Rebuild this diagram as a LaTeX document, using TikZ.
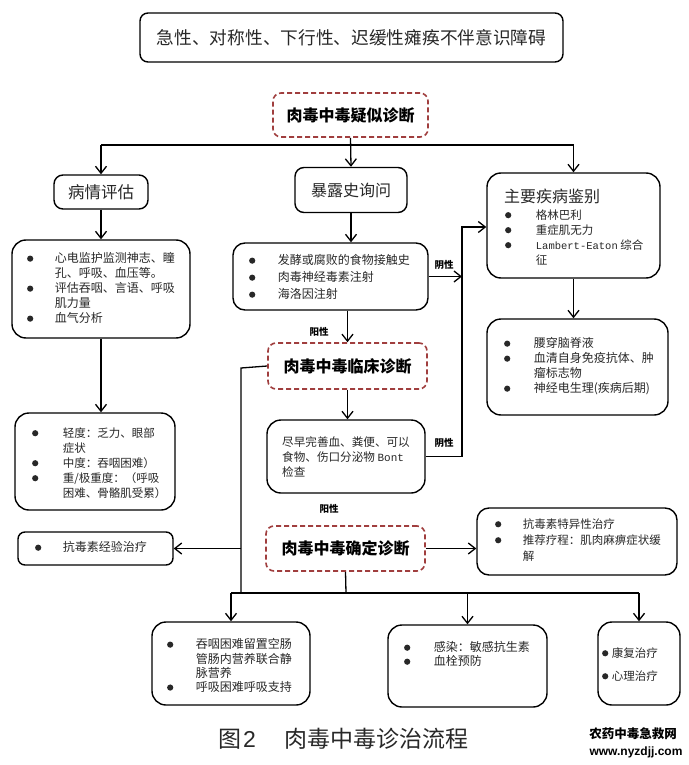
\documentclass[tikz,border=0pt]{standalone}
\usepackage{fontspec}
\setmainfont{Noto Sans CJK SC}
\newfontfamily\mono{Liberation Mono}
\newfontfamily\lsans{Liberation Sans}
\usetikzlibrary{arrows.meta}
\definecolor{dred}{RGB}{160,62,62}
\definecolor{txtc}{RGB}{40,40,40}
\newlength\bgap
\newcommand\bl{\makebox[\bgap][l]{\raisebox{1.2pt}{\tikz\fill (0,0) circle (3.1pt);}}}
\newcommand\ind{\hspace*{\bgap}}
\begin{document}
\begin{tikzpicture}[x=1pt,y=-1pt,
  box/.style={draw, line width=1.4pt, rounded corners=9pt, inner sep=0, text=txtc},
  dbox/.style={draw=dred, dash pattern=on 5pt off 3pt, line width=1.6pt, rounded corners=8pt, inner sep=0, font=\bfseries\fontsize{16}{18}\selectfont},
  txt/.style={anchor=north west, inner sep=0, align=left, text=txtc},
  conn/.style={line width=1.3pt},
  arr/.style={conn, -{Straight Barb[length=7pt,width=11pt]}},
  lab/.style={inner sep=0, font=\bfseries\fontsize{9.5}{11}\selectfont}]
\useasboundingbox[fill=white] (0,0) rectangle (688,765);

% boxes
\node[box, rounded corners=8pt, minimum width=423pt, minimum height=49pt, font=\fontsize{17.7}{20}\selectfont] (top) at (351.5,37.5) {急性、对称性、下行性、迟缓性瘫痪不伴意识障碍};
\node[dbox, minimum width=155pt, minimum height=44pt] (sus) at (350.5,115) {肉毒中毒疑似诊断};
\node[box, minimum width=94pt, minimum height=34pt, font=\fontsize{16.5}{18}\selectfont] (eval) at (101,192) {病情评估};
\node[box, minimum width=112pt, minimum height=45pt, font=\fontsize{16}{18}\selectfont] (exp) at (351,190) {暴露史询问};
\node[box, rounded corners=14pt, minimum width=173pt, minimum height=105pt] (diff) at (573.5,225.5) {};
\node[box, rounded corners=14pt, minimum width=178pt, minimum height=98pt] (eval2) at (101,289) {};
\node[box, rounded corners=12pt, minimum width=195pt, minimum height=67pt] (exp2) at (330.5,276.5) {};
\node[box, rounded corners=14pt, minimum width=181pt, minimum height=96pt] (diff2) at (577.5,367) {};
\node[dbox, minimum width=159pt, minimum height=46pt] (clin) at (347.5,366) {肉毒中毒临床诊断};
\node[box, rounded corners=14pt, minimum width=158pt, minimum height=73pt] (test) at (346,456.5) {};
\node[box, rounded corners=14pt, minimum width=160pt, minimum height=97pt] (sev) at (95,461.5) {};
\node[dbox, minimum width=159pt, minimum height=45pt] (conf) at (345.5,548.5) {肉毒中毒确定诊断};
\node[box, rounded corners=12pt, minimum width=200pt, minimum height=67pt] (anti) at (577,541.5) {};
\node[box, rounded corners=7pt, minimum width=155pt, minimum height=33pt] (emp) at (95.5,548.5) {};
\node[box, rounded corners=14pt, minimum width=158pt, minimum height=83pt] (b1) at (231,663.5) {};
\node[box, rounded corners=14pt, minimum width=159pt, minimum height=82pt] (b2) at (467.5,666) {};
\node[box, rounded corners=14pt, minimum width=82pt, minimum height=83pt] (b3) at (639,663.5) {};

% box texts
\node[txt, font=\fontsize{16}{18}\selectfont] (difft0) at (504,189) {主要疾病鉴别};
\setlength\bgap{30.8pt}
\node[txt, font=\fontsize{11.5}{15}\selectfont] (difft) at (504.9,209.6) {%
\bl 格林巴利\\
\bl 重症肌无力\\
\bl {\mono\fontsize{10.5}{15}\selectfont Lambert-Eaton} 综合\\
\ind 征};
\setlength\bgap{27.8pt}
\node[txt, font=\fontsize{12}{15}\selectfont] (eval2t) at (26.9,252.6) {%
\bl 心电监护监测神志、瞳\\
\ind 孔、呼吸、血压等。\\
\bl 评估吞咽、言语、呼吸\\
\ind 肌力量\\
\bl 血气分析};
\setlength\bgap{28.8pt}
\node[txt, font=\fontsize{12}{17}\selectfont] (exp2t) at (248.9,254.6) {%
\bl 发酵或腐败的食物接触史\\
\bl 肉毒神经毒素注射\\
\bl 海洛因注射};
\setlength\bgap{29.8pt}
\node[txt, font=\fontsize{12}{15}\selectfont] (diff2t) at (503.9,337.6) {%
\bl 腰穿脑脊液\\
\bl 血清自身免疫抗体、肿\\
\ind 瘤标志物\\
\bl 神经电生理(疾病后期)};
\node[txt, font=\fontsize{11.6}{15}\selectfont] (testt) at (282,436.6) {尽早完善血、粪便、可以\\
食物、伤口分泌物 {\mono\fontsize{11}{15}\selectfont Bont}\\
检查};
\setlength\bgap{30.8pt}
\node[txt, font=\fontsize{11.5}{15}\selectfont] (sevt) at (31.9,427.6) {%
\bl 轻度：乏力、眼部\\
\ind 症状\\
\bl 中度：吞咽困难）\\
\bl 重/极重度：（呼吸\\
\ind 困难、骨骼肌受累）};
\setlength\bgap{27.8pt}
\node[txt, font=\fontsize{11.5}{16}\selectfont] (antit) at (494.9,518.6) {%
\bl 抗毒素特异性治疗\\
\bl 推荐疗程：肌肉麻痹症状缓\\
\ind 解};
\node[txt, font=\fontsize{12}{15}\selectfont] (empt) at (34.9,541.6) {%
\bl 抗毒素经验治疗};
\setlength\bgap{28.8pt}
\node[txt, font=\fontsize{12}{14.3}\selectfont] (b1t) at (166.9,638.6) {%
\bl 吞咽困难留置空肠\\
\ind 管肠内营养联合静\\
\ind 脉营养\\
\bl 呼吸困难呼吸支持};
\setlength\bgap{29.8pt}
\node[txt, font=\fontsize{12}{14}\selectfont] (b2t) at (403.9,641.6) {%
\bl 感染：敏感抗生素\\
\bl 血栓预防};
\setlength\bgap{9.8pt}
\node[txt, font=\fontsize{11.5}{23}\selectfont] (b3t) at (601.9,647.6) {%
\bl 康复治疗\\
\bl 心理治疗};

% helper coordinates
\coordinate (s1) at (350,145);
\coordinate (vneg) at (462,227);
\coordinate (vl) at (241,368);
\coordinate (s2) at (346,593);

% connectors
\draw[arr] (sus.south) -- (exp.north);
\draw[conn] (eval.north |- s1) -- (diff.north |- s1);
\draw[arr] (eval.north |- s1) -- (eval.north);
\draw[arr] (diff.north |- s1) -- (diff.north);
\draw[arr] (eval.south) -- (eval2.north);
\draw[arr] (eval2.south) -- (eval2.south |- sev.north);
\draw[arr] (exp.south) -- (exp.south |- exp2.north);
\draw[arr] (clin.north |- exp2.south) -- (clin.north);
\draw[arr] (exp2.east) -- (exp2.east -| vneg);
\draw[arr] (test.east) -- (test.east -| vneg) -- (vneg) -- (vneg -| diff.west);
\draw[arr] (diff.south) -- (diff.south |- diff2.north);
\draw[arr] (clin.south) -- (clin.south |- test.north);
\draw[conn] (clin.west) -- (vl) -- (vl |- s2);
\draw[arr] (vl |- emp.east) -- (emp.east);
\draw[arr] (conf.east) -- (conf.east -| anti.west);
\draw[conn] (conf.south) -- (s2);
\draw[conn] (b1.north |- s2) -- (b3.north |- s2);
\draw[arr] (b1.north |- s2) -- (b1.north);
\draw[arr] (b2.north |- s2) -- (b2.north);
\draw[arr] (b3.north |- s2) -- (b3.north);

% labels
\node[lab] (neg1) at (444,265) {阴性};
\node[lab] (neg2) at (444,443) {阴性};
\node[lab] (pos1) at (319,332) {阳性};
\node[lab] (pos2) at (329,509) {阳性};

% caption and watermark
\node[anchor=west, inner sep=0, text=txtc, font=\fontsize{23}{25}\selectfont] (cap) at (218,739) {图\hspace{2pt}{\lsans 2}\hspace{29pt}肉毒中毒诊治流程};
\node[inner sep=0, font=\bfseries\fontsize{12.5}{14}\selectfont] (wm1) at (633,734) {农药中毒急救网};
\node[inner sep=0, font=\lsans\bfseries\fontsize{12}{14}\selectfont] (wm2) at (636,752) {www.nyzdjj.com};
\end{tikzpicture}
\end{document}
